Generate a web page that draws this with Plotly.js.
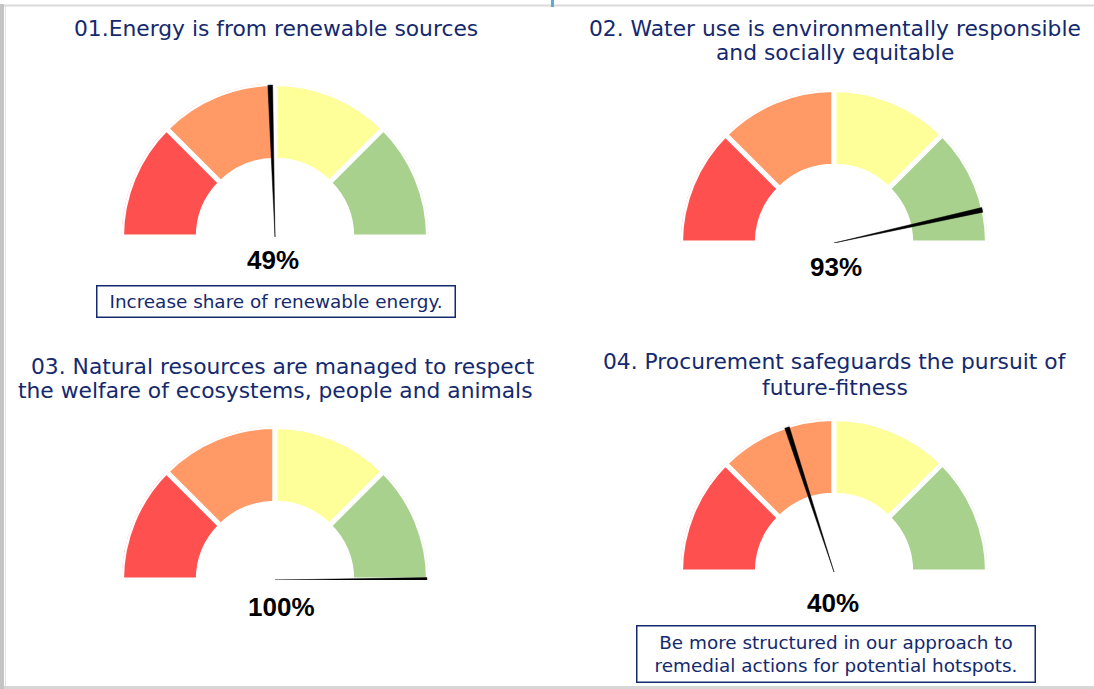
<!DOCTYPE html>
<html>
<head>
<meta charset="utf-8">
<script src="https://cdn.plot.ly/plotly-3.0.1.min.js"></script>
<style>
  html, body { margin: 0; padding: 0; background: #ffffff; }
  #chart { width: 1094px; height: 689px; }
</style>
</head>
<body>
<div id="chart"></div>
<script>
// ---------- data ----------
const bandEdges = [0, 25, 50, 75, 100];            // score bands (%)
const bandColors = ['#ff5050', '#ff9966', '#ffff99', '#a9d18e'];
const gaugeValues = [49, 93, 100, 40];               // needle values (%)
const gaugeTitles = [
  ['01.Energy is from renewable sources'],
  ['02. Water use is environmentally responsible', 'and socially equitable'],
  ['03. Natural resources are managed to respect', 'the welfare of ecosystems, people and animals'],
  ['04. Procurement safeguards the pursuit of', 'future-fitness']
];
const gaugeNotes = [
  'Increase share of renewable energy.',
  null,
  null,
  'Be more structured in our approach to<br>remedial actions for potential hotspots.'
];

// ---------- layout helpers ----------
const W = 1094, H = 689;
const px = x => x / W;
const py = y => 1 - y / H;
const NAVY = '#14296e';
const R = 153.5;                       // gauge radius in px
const gaugePos = [                      // gauge centres (px)
  {cx: 275, cy: 237, titleY: [28], titleX: [276], valY: 260, valX: 273, note: {x: 276, y: 301.5, w: 360, h: 33}},
  {cx: 834, cy: 243, titleY: [28, 53], titleX: [835, 835], valY: 267, valX: 836},
  {cx: 275, cy: 580, titleY: [366, 391], titleX: [283, 275], valY: 607, valX: 281},
  {cx: 834, cy: 572, titleY: [362, 387], titleX: [835, 835], valY: 603, valX: 833, note: {x: 836, y: 654, w: 400, h: 58}}
];

const toDeg = p => p * 180 / 100;
const traces = [];
const layout = {
  width: W, height: H,
  margin: {l: 0, r: 0, t: 0, b: 0},
  paper_bgcolor: '#ffffff',
  showlegend: false,
  annotations: [],
  shapes: []
};

gaugeValues.forEach((v, i) => {
  const g = gaugePos[i];
  const pid = i === 0 ? 'polar' : 'polar' + (i + 1);
  const sub = pid;
  layout[pid] = {
    domain: {x: [px(g.cx - R), px(g.cx + R)], y: [py(g.cy), py(g.cy - R)]},
    sector: [0, 180],
    hole: 0,
    bgcolor: 'rgba(0,0,0,0)',
    radialaxis: {visible: false, range: [0, 1]},
    angularaxis: {visible: false, rotation: 180, direction: 'clockwise', thetaunit: 'degrees'}
  };
  // colour bands
  const thetas = [], widths = [];
  for (let k = 0; k < bandEdges.length - 1; k++) {
    thetas.push(toDeg((bandEdges[k] + bandEdges[k + 1]) / 2));
    widths.push(toDeg(bandEdges[k + 1] - bandEdges[k]));
  }
  traces.push({
    type: 'barpolar', subplot: sub,
    theta: thetas, width: widths,
    r: thetas.map(() => 0.5), base: 0.5,
    marker: {color: bandColors, line: {color: '#ffffff', width: 5}},
    hoverinfo: 'skip'
  });
  // needle
  const a = toDeg(v), d = 0.9, tip = 0.99;
  traces.push({
    type: 'scatterpolar', subplot: sub, mode: 'lines',
    r: [0, tip, tip, 0], theta: [a, a - d, a + d, a],
    fill: 'toself', fillcolor: '#000000',
    line: {color: '#000000', width: 0.5},
    hoverinfo: 'skip'
  });
  // titles
  gaugeTitles[i].forEach((t, j) => {
    layout.annotations.push({
      xref: 'paper', yref: 'paper', x: px(g.titleX[j]), y: py(g.titleY[j]),
      xanchor: 'center', yanchor: 'middle', showarrow: false, text: t,
      font: {family: 'DejaVu Sans, Verdana, sans-serif', size: 21.8, color: NAVY}
    });
  });
  // value label
  layout.annotations.push({
    xref: 'paper', yref: 'paper', x: px(g.valX), y: py(g.valY),
    xanchor: 'center', yanchor: 'middle', showarrow: false, text: '<b>' + v + '%</b>',
    font: {family: 'Liberation Sans, Arial, sans-serif', size: 26, color: '#000000'}
  });
  // note box
  if (gaugeNotes[i] && g.note) {
    layout.annotations.push({
      xref: 'paper', yref: 'paper', x: px(g.note.x), y: py(g.note.y),
      xanchor: 'center', yanchor: 'middle', showarrow: false, text: gaugeNotes[i],
      width: g.note.w - 3, height: g.note.h - 3, borderpad: 0, align: 'center', valign: 'middle',
      bordercolor: NAVY, borderwidth: 1.5, bgcolor: '#ffffff',
      font: {family: 'DejaVu Sans, Verdana, sans-serif', size: 18.4, color: NAVY}
    });
  }
});

// frame decorations
layout.shapes.push(
  {type: 'rect', xref: 'paper', yref: 'paper', x0: px(0), x1: px(4), y0: py(689), y1: py(4),
   fillcolor: '#c4c4c4', line: {width: 0}, layer: 'below'},
  {type: 'line', xref: 'paper', yref: 'paper', x0: px(5.5), x1: px(5.5), y0: py(687), y1: py(5),
   line: {color: '#e2e2e2', width: 1}},
  {type: 'line', xref: 'paper', yref: 'paper', x0: px(4), x1: px(1094), y0: py(5.5), y1: py(5.5),
   line: {color: '#dadada', width: 2}},
  {type: 'line', xref: 'paper', yref: 'paper', x0: px(4), x1: px(1094), y0: py(687.5), y1: py(687.5),
   line: {color: '#d6d6d6', width: 3}},
  {type: 'rect', xref: 'paper', yref: 'paper', x0: px(551), x1: px(554), y0: py(7), y1: py(0),
   fillcolor: '#58acd8', line: {width: 0}}
);

Plotly.newPlot('chart', traces, layout, {displayModeBar: false, staticPlot: true});
</script>
</body>
</html>
